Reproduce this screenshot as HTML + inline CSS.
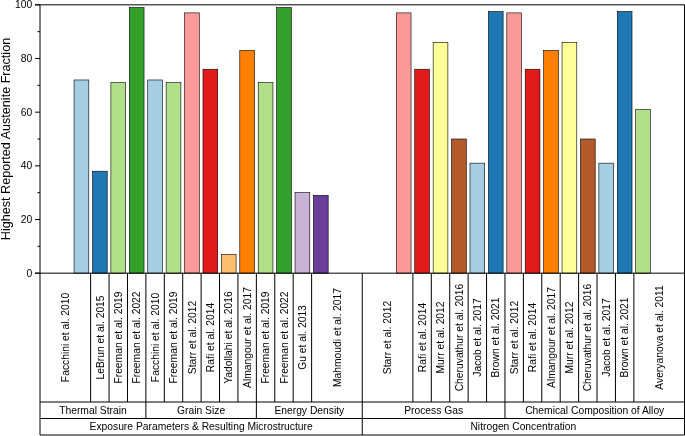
<!DOCTYPE html><html><head><meta charset="utf-8"><style>html,body{margin:0;padding:0;background:#fff;}svg{display:block}svg{will-change:transform}text{font-family:"Liberation Sans",sans-serif;fill:#000}</style></head><body>
<svg width="685" height="436" viewBox="0 0 685 436">
<rect x="0" y="0" width="685" height="436" fill="#fff"/>
<rect x="74.07" y="79.97" width="14.73" height="193.20" fill="#a6cee3" stroke="#000" stroke-width="0.6"/>
<rect x="92.48" y="171.20" width="14.73" height="101.97" fill="#1f78b4" stroke="#000" stroke-width="0.6"/>
<rect x="110.89" y="82.65" width="14.73" height="190.52" fill="#b2df8a" stroke="#000" stroke-width="0.6"/>
<rect x="129.31" y="7.51" width="14.73" height="265.66" fill="#33a02c" stroke="#000" stroke-width="0.6"/>
<rect x="147.72" y="79.97" width="14.73" height="193.20" fill="#a6cee3" stroke="#000" stroke-width="0.6"/>
<rect x="166.14" y="82.65" width="14.73" height="190.52" fill="#b2df8a" stroke="#000" stroke-width="0.6"/>
<rect x="184.55" y="12.88" width="14.73" height="260.29" fill="#fb9a99" stroke="#000" stroke-width="0.6"/>
<rect x="202.97" y="69.23" width="14.73" height="203.94" fill="#e31a1c" stroke="#000" stroke-width="0.6"/>
<rect x="221.38" y="254.39" width="14.73" height="18.78" fill="#fdbf6f" stroke="#000" stroke-width="0.6"/>
<rect x="239.79" y="50.45" width="14.73" height="222.72" fill="#ff7f00" stroke="#000" stroke-width="0.6"/>
<rect x="258.21" y="82.65" width="14.73" height="190.52" fill="#b2df8a" stroke="#000" stroke-width="0.6"/>
<rect x="276.62" y="7.51" width="14.73" height="265.66" fill="#33a02c" stroke="#000" stroke-width="0.6"/>
<rect x="295.04" y="192.67" width="14.73" height="80.50" fill="#cab2d6" stroke="#000" stroke-width="0.6"/>
<rect x="313.45" y="195.35" width="14.73" height="77.82" fill="#6a3d9a" stroke="#000" stroke-width="0.6"/>
<rect x="396.32" y="12.88" width="14.73" height="260.29" fill="#fb9a99" stroke="#000" stroke-width="0.6"/>
<rect x="414.73" y="69.23" width="14.73" height="203.94" fill="#e31a1c" stroke="#000" stroke-width="0.6"/>
<rect x="433.15" y="42.40" width="14.73" height="230.77" fill="#ffff99" stroke="#000" stroke-width="0.6"/>
<rect x="451.56" y="139.00" width="14.73" height="134.17" fill="#b15928" stroke="#000" stroke-width="0.6"/>
<rect x="469.97" y="163.15" width="14.73" height="110.02" fill="#a6cee3" stroke="#000" stroke-width="0.6"/>
<rect x="488.39" y="11.54" width="14.73" height="261.63" fill="#1f78b4" stroke="#000" stroke-width="0.6"/>
<rect x="506.80" y="12.88" width="14.73" height="260.29" fill="#fb9a99" stroke="#000" stroke-width="0.6"/>
<rect x="525.22" y="69.23" width="14.73" height="203.94" fill="#e31a1c" stroke="#000" stroke-width="0.6"/>
<rect x="543.63" y="50.45" width="14.73" height="222.72" fill="#ff7f00" stroke="#000" stroke-width="0.6"/>
<rect x="562.04" y="42.40" width="14.73" height="230.77" fill="#ffff99" stroke="#000" stroke-width="0.6"/>
<rect x="580.46" y="139.00" width="14.73" height="134.17" fill="#b15928" stroke="#000" stroke-width="0.6"/>
<rect x="598.87" y="163.15" width="14.73" height="110.02" fill="#a6cee3" stroke="#000" stroke-width="0.6"/>
<rect x="617.29" y="11.54" width="14.73" height="261.63" fill="#1f78b4" stroke="#000" stroke-width="0.6"/>
<rect x="635.70" y="109.48" width="14.73" height="163.69" fill="#b2df8a" stroke="#000" stroke-width="0.6"/>
<path d="M35.0 4.83H684.5V273.17" fill="none" stroke="#000" stroke-width="1"/>
<path d="M40.0 4.83V435" fill="none" stroke="#000" stroke-width="1"/>
<path d="M684.5 4.83V435" fill="none" stroke="#000" stroke-width="1"/>
<path d="M35.0 273.17H684.5" fill="none" stroke="#000" stroke-width="1"/>
<path d="M35.0 273.17H40.0" stroke="#000" stroke-width="1"/>
<text x="32.2" y="276.82" font-size="10.3" text-anchor="end">0</text>
<path d="M35.0 219.50H40.0" stroke="#000" stroke-width="1"/>
<text x="32.2" y="223.15" font-size="10.3" text-anchor="end">20</text>
<path d="M35.0 165.83H40.0" stroke="#000" stroke-width="1"/>
<text x="32.2" y="169.48" font-size="10.3" text-anchor="end">40</text>
<path d="M35.0 112.17H40.0" stroke="#000" stroke-width="1"/>
<text x="32.2" y="115.82" font-size="10.3" text-anchor="end">60</text>
<path d="M35.0 58.50H40.0" stroke="#000" stroke-width="1"/>
<text x="32.2" y="62.15" font-size="10.3" text-anchor="end">80</text>
<path d="M35.0 4.83H40.0" stroke="#000" stroke-width="1"/>
<text x="32.2" y="8.48" font-size="10.3" text-anchor="end">100</text>
<path d="M37.5 246.34H40.0" stroke="#000" stroke-width="1"/>
<path d="M37.5 192.67H40.0" stroke="#000" stroke-width="1"/>
<path d="M37.5 139.00H40.0" stroke="#000" stroke-width="1"/>
<path d="M37.5 85.33H40.0" stroke="#000" stroke-width="1"/>
<path d="M37.5 31.66H40.0" stroke="#000" stroke-width="1"/>
<path d="M40.0 402.0H684.5M40.0 418.5H684.5M40.0 435.0H684.5" stroke="#000" stroke-width="1"/>
<path d="M90.64 273.17V402.0M109.05 273.17V402.0M127.47 273.17V402.0M145.88 273.17V402.0M164.30 273.17V402.0M182.71 273.17V402.0M201.12 273.17V402.0M219.54 273.17V402.0M237.95 273.17V402.0M256.37 273.17V402.0M274.78 273.17V402.0M293.20 273.17V402.0M311.61 273.17V402.0M362.25 273.17V402.0M412.89 273.17V402.0M431.30 273.17V402.0M449.72 273.17V402.0M468.13 273.17V402.0M486.55 273.17V402.0M504.96 273.17V402.0M523.38 273.17V402.0M541.79 273.17V402.0M560.20 273.17V402.0M578.62 273.17V402.0M597.03 273.17V402.0M615.45 273.17V402.0M633.86 273.17V402.0" stroke="#000" stroke-width="1"/>
<text transform="translate(68.97 337.5) rotate(-90)" font-size="10.3" text-anchor="middle">Facchini et al. 2010</text>
<text transform="translate(103.50 337.5) rotate(-90)" font-size="10.3" text-anchor="middle">LeBrun et al. 2015</text>
<text transform="translate(121.91 337.5) rotate(-90)" font-size="10.3" text-anchor="middle">Freeman et al. 2019</text>
<text transform="translate(140.33 337.5) rotate(-90)" font-size="10.3" text-anchor="middle">Freeman et al. 2022</text>
<text transform="translate(158.74 337.5) rotate(-90)" font-size="10.3" text-anchor="middle">Facchini et al. 2010</text>
<text transform="translate(177.15 337.5) rotate(-90)" font-size="10.3" text-anchor="middle">Freeman et al. 2019</text>
<text transform="translate(195.57 337.5) rotate(-90)" font-size="10.3" text-anchor="middle">Starr et al. 2012</text>
<text transform="translate(213.98 337.5) rotate(-90)" font-size="10.3" text-anchor="middle">Rafi et al. 2014</text>
<text transform="translate(232.40 337.5) rotate(-90)" font-size="10.3" text-anchor="middle">Yadollahi et al. 2016</text>
<text transform="translate(250.81 337.5) rotate(-90)" font-size="10.3" text-anchor="middle">Almangour et al. 2017</text>
<text transform="translate(269.22 337.5) rotate(-90)" font-size="10.3" text-anchor="middle">Freeman et al. 2019</text>
<text transform="translate(287.64 337.5) rotate(-90)" font-size="10.3" text-anchor="middle">Freeman et al. 2022</text>
<text transform="translate(306.05 337.5) rotate(-90)" font-size="10.3" text-anchor="middle">Gu et al. 2013</text>
<text transform="translate(340.58 337.5) rotate(-90)" font-size="10.3" text-anchor="middle">Mahmoudi et al. 2017</text>
<text transform="translate(391.22 337.5) rotate(-90)" font-size="10.3" text-anchor="middle">Starr et al. 2012</text>
<text transform="translate(425.75 337.5) rotate(-90)" font-size="10.3" text-anchor="middle">Rafi et al. 2014</text>
<text transform="translate(444.16 337.5) rotate(-90)" font-size="10.3" text-anchor="middle">Murr et al. 2012</text>
<text transform="translate(462.57 337.5) rotate(-90)" font-size="10.3" text-anchor="middle">Cheruvathur et al. 2016</text>
<text transform="translate(480.99 337.5) rotate(-90)" font-size="10.3" text-anchor="middle">Jacob et al. 2017</text>
<text transform="translate(499.40 337.5) rotate(-90)" font-size="10.3" text-anchor="middle">Brown et al. 2021</text>
<text transform="translate(517.82 337.5) rotate(-90)" font-size="10.3" text-anchor="middle">Starr et al. 2012</text>
<text transform="translate(536.23 337.5) rotate(-90)" font-size="10.3" text-anchor="middle">Rafi et al. 2014</text>
<text transform="translate(554.65 337.5) rotate(-90)" font-size="10.3" text-anchor="middle">Almangour et al. 2017</text>
<text transform="translate(573.06 337.5) rotate(-90)" font-size="10.3" text-anchor="middle">Murr et al. 2012</text>
<text transform="translate(591.48 337.5) rotate(-90)" font-size="10.3" text-anchor="middle">Cheruvathur et al. 2016</text>
<text transform="translate(609.89 337.5) rotate(-90)" font-size="10.3" text-anchor="middle">Jacob et al. 2017</text>
<text transform="translate(628.30 337.5) rotate(-90)" font-size="10.3" text-anchor="middle">Brown et al. 2021</text>
<text transform="translate(662.83 337.5) rotate(-90)" font-size="10.3" text-anchor="middle">Averyanova et al. 2011</text>
<text x="92.94" y="413.9" font-size="10.3" text-anchor="middle">Thermal Strain</text>
<text x="201.12" y="413.9" font-size="10.3" text-anchor="middle">Grain Size</text>
<text x="309.31" y="413.9" font-size="10.3" text-anchor="middle">Energy Density</text>
<text x="433.61" y="413.9" font-size="10.3" text-anchor="middle">Process Gas</text>
<text x="594.73" y="413.9" font-size="10.3" text-anchor="middle">Chemical Composition of Alloy</text>
<path d="M145.88 402.0V418.5M256.37 402.0V418.5M362.25 402.0V418.5M504.96 402.0V418.5" stroke="#000" stroke-width="1"/>
<path d="M362.25 418.5V435.0" stroke="#000" stroke-width="1"/>
<text x="201.12" y="430.2" font-size="10.3" text-anchor="middle">Exposure Parameters &amp; Resulting Microstructure</text>
<text x="523.38" y="430.2" font-size="10.3" text-anchor="middle">Nitrogen Concentration</text>
<text transform="translate(9.6 139.0) rotate(-90)" font-size="12.6" text-anchor="middle">Highest Reported Austenite Fraction</text>
</svg></body></html>
